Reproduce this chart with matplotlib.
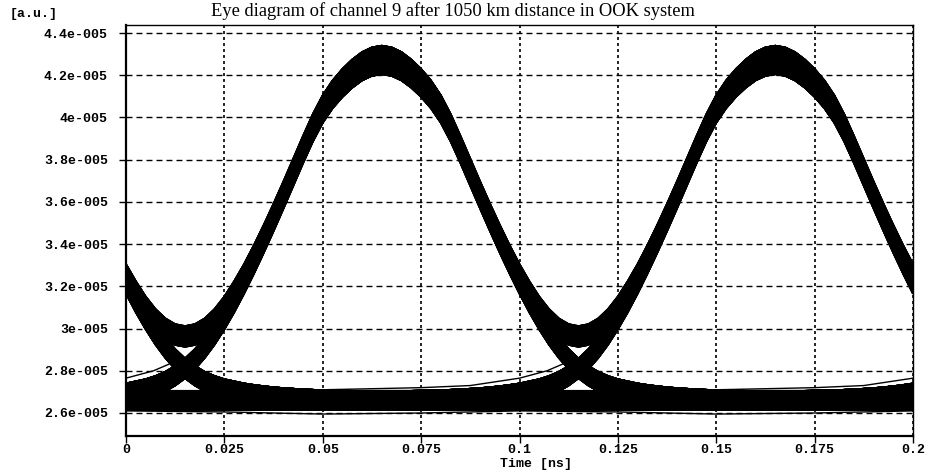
import itertools
import numpy as np
import matplotlib
matplotlib.use("Agg")
import matplotlib.pyplot as plt
from matplotlib.ticker import FixedLocator, FuncFormatter

# ---------------- data (amplitudes in units of 1e-5 a.u.) ----------------
title = "Eye diagram of channel 9 after 1050 km distance in OOK system"
x_ticks = [0, 0.025, 0.05, 0.075, 0.1, 0.125, 0.15, 0.175, 0.2]
x_tick_labels = ["0", "0.025", "0.05", "0.075", "0.1", "0.125", "0.15", "0.175", "0.2"]
y_ticks = [2.6, 2.8, 3.0, 3.2, 3.4, 3.6, 3.8, 4.0, 4.2, 4.4]

sample_step_ns = 0.0025
time_ns = np.round(np.arange(81) * sample_step_ns, 6)          # 0 .. 0.2 ns

# single "1" pulse above the zero level, read at |tau| = 0, 0.0025, ... 0.1 ns
pulse_half = [1.620, 1.612, 1.590, 1.555, 1.510, 1.455, 1.385, 1.295, 1.190,
              1.080, 0.970, 0.862, 0.757, 0.656, 0.560, 0.470, 0.388, 0.314,
              0.250, 0.196, 0.152, 0.117, 0.090, 0.070, 0.055, 0.045, 0.035,
              0.028, 0.022, 0.017, 0.013, 0.010, 0.007, 0.005, 0.003, 0.002,
              0.001, 0.0, 0.0, 0.0, 0.0]
bit_centres_ns = [-0.035, 0.065, 0.165, 0.265]
bit_patterns = ["".join(b) for b in itertools.product("01", repeat=4)]
zero_levels = [2.615, 2.625, 2.635, 2.645, 2.655, 2.665, 2.675, 2.685, 2.695, 2.705]
pulse_heights = [1.59, 1.605, 1.62, 1.635]

# slow pattern-dependent traces inside the zero rail
slow_rise_left_t = [0.0, 0.007, 0.012]
slow_rise_left_v = [2.765, 2.80, 2.84]
slow_rise_mid_t = [0.05, 0.075, 0.0875, 0.1, 0.107, 0.112]
slow_rise_mid_v = [2.71, 2.72, 2.73, 2.765, 2.80, 2.84]
slow_rise_right_t = [0.15, 0.175, 0.1875, 0.2]
slow_rise_right_v = [2.71, 2.72, 2.73, 2.765]
low_drift_t = [0.0, 0.025, 0.05, 0.075, 0.1, 0.125, 0.15, 0.175, 0.2]
low_drift_v = [2.61, 2.605, 2.595, 2.60, 2.61, 2.605, 2.595, 2.60, 2.61]

# ---------------- figure ----------------
fig = plt.figure(figsize=(9.33, 4.71), dpi=100)
ax = fig.add_axes([126 / 933, 1 - 436 / 471, (913 - 126) / 933, (436 - 25) / 471])

pulse = np.array(pulse_half)
centre_idx = [int(round(c / sample_step_ns)) for c in bit_centres_ns]
sample_idx = np.arange(len(time_ns))

for pattern in bit_patterns:
    for z in zero_levels:
        for h in pulse_heights:
            y = np.full(len(time_ns), z)
            for bit, c in zip(pattern, centre_idx):
                if bit == "1":
                    k = np.abs(sample_idx - c)
                    contrib = np.where(k < len(pulse), pulse[np.minimum(k, len(pulse) - 1)], 0.0)
                    y = y + contrib * h / pulse_half[0]
            ax.plot(time_ns, y * 1e-5, color="black", lw=1.2, zorder=2,
                    solid_capstyle="butt")

for t, v in ((slow_rise_left_t, slow_rise_left_v),
             (slow_rise_mid_t, slow_rise_mid_v),
             (slow_rise_right_t, slow_rise_right_v),
             (low_drift_t, low_drift_v)):
    ax.plot(t, np.array(v) * 1e-5, color="black", lw=1.0, zorder=2)

ax.set_xlim(0, 0.2)
ax.set_ylim(2.491e-5, 4.438e-5)

ax.xaxis.set_major_locator(FixedLocator(x_ticks))
ax.set_xticklabels(x_tick_labels)


def yfmt(v, pos):
    s = f"{v:g}"
    mant, exp = s.split("e")
    sign = exp[0]
    return f"{mant}e{sign}{exp[1:].lstrip('0').zfill(3)}"


ax.yaxis.set_major_locator(FixedLocator([t * 1e-5 for t in y_ticks]))
ax.yaxis.set_major_formatter(FuncFormatter(yfmt))

tick_font = dict(family="Liberation Mono", weight="bold", size=9.5)
for lab in ax.get_xticklabels() + ax.get_yticklabels():
    lab.set_fontfamily("Liberation Mono")
    lab.set_fontweight("bold")
    lab.set_fontsize(9.5)

ax.tick_params(axis="y", direction="out", length=5, width=1, color="black", pad=8)
ax.tick_params(axis="x", direction="out", length=5, width=1, color="black", pad=1)
ax.yaxis.grid(True, color="black", lw=1.0, linestyle=(0, (4.3, 2.9)), zorder=1)
ax.xaxis.grid(True, color="black", lw=1.2, linestyle=(0, (1.8, 1.8)), zorder=1)
ax.set_axisbelow(True)

for side in ["left", "bottom"]:
    ax.spines[side].set_linewidth(1.6)
for side in ["top", "right"]:
    ax.spines[side].set_linewidth(1.0)

fig.text(453 / 933, 1 - 11 / 471, title, ha="center", va="center",
         family="Liberation Serif", size=13.3)
fig.text(10 / 933, 1 - 14 / 471, "[a.u.]", ha="left", va="center", **tick_font)
fig.text(536 / 933, 1 - 464 / 471, "Time [ns]", ha="center", va="center", **tick_font)

fig.savefig("out.png", dpi=100)
